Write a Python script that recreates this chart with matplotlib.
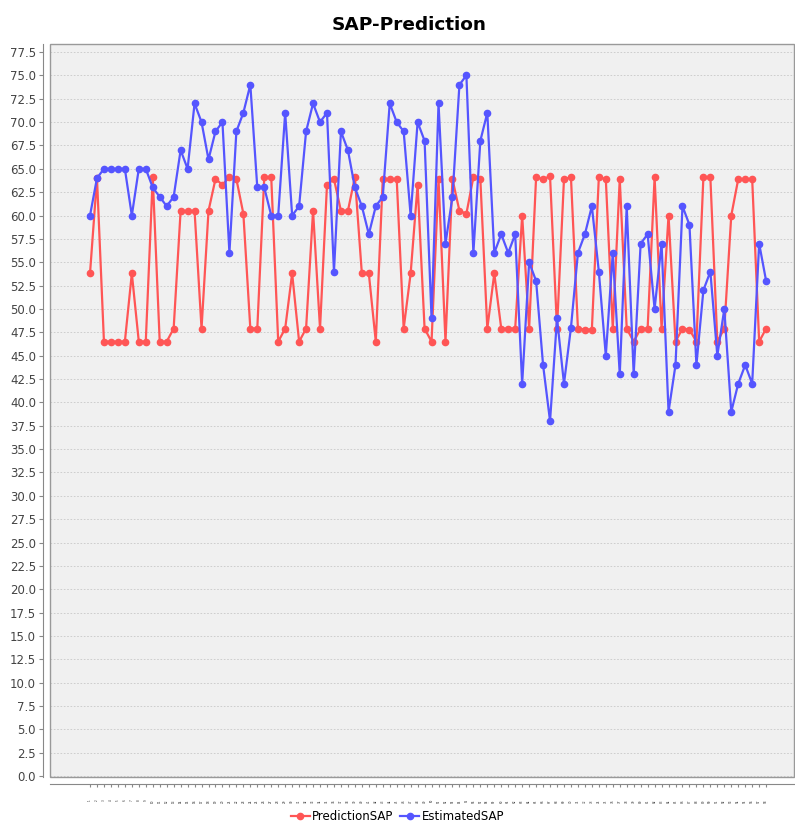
import matplotlib.pyplot as plt
from matplotlib.patches import Rectangle
import numpy as np

# values (98 categories)
categories = [str(i) for i in range(1, 99)]

prediction_sap = [
    53.8, 64.0, 46.5, 46.5, 46.5, 46.5, 53.8, 46.5, 46.5, 64.1,
    46.5, 46.5, 47.9, 60.5, 60.5, 60.5, 47.9, 60.5, 63.9, 63.3,
    64.1, 63.9, 60.2, 47.9, 47.9, 64.1, 64.1, 46.5, 47.9, 53.8,
    46.5, 47.9, 60.5, 47.9, 63.3, 63.9, 60.5, 60.5, 64.1, 53.8,
    53.8, 46.5, 63.9, 63.9, 63.9, 47.9, 53.8, 63.3, 47.9, 46.5,
    63.9, 46.5, 63.9, 60.5, 60.2, 64.1, 63.9, 47.9, 53.8, 47.9,
    47.9, 47.9, 60.0, 47.9, 64.1, 63.9, 64.2, 47.9, 63.9, 64.1,
    47.9, 47.8, 47.8, 64.1, 63.9, 47.9, 63.9, 47.9, 46.5, 47.9,
    47.9, 64.1, 47.9, 60.0, 46.5, 47.9, 47.8, 46.5, 64.1, 64.1,
    46.5, 47.9, 60.0, 63.9, 63.9, 63.9, 46.5, 47.9,
]

estimated_sap = [
    60, 64, 65, 65, 65, 65, 60, 65, 65, 63,
    62, 61, 62, 67, 65, 72, 70, 66, 69, 70,
    56, 69, 71, 74, 63, 63, 60, 60, 71, 60,
    61, 69, 72, 70, 71, 54, 69, 67, 63, 61,
    58, 61, 62, 72, 70, 69, 60, 70, 68, 49,
    72, 57, 62, 74, 75, 56, 68, 71, 56, 58,
    56, 58, 42, 55, 53, 44, 38, 49, 42, 48,
    56, 58, 61, 54, 45, 56, 43, 61, 43, 57,
    58, 50, 57, 39, 44, 61, 59, 44, 52, 54,
    45, 50, 39, 42, 44, 42, 57, 53,
]

y_ticks = np.arange(0, 77.6, 2.5)

fig = plt.figure(figsize=(7.95, 8.24), dpi=100)
ax = fig.add_axes([50 / 795, 1 - 777 / 824, 744 / 795, 733 / 824])
ax.set_facecolor("#f0f0f0")

x = np.arange(len(categories))
ax.plot(x, prediction_sap, color="#ff5555", lw=1.6, marker="o", ms=4.5,
        label="PredictionSAP", zorder=3)
ax.plot(x, estimated_sap, color="#5555ff", lw=1.6, marker="o", ms=4.5,
        label="EstimatedSAP", zorder=3)

# axis lines sit a few pixels off the plot area, like the original
# (set_position resets the ticks, so do it before styling them)
for side in ("top", "right"):
    ax.spines[side].set_visible(False)
for side in ("left", "bottom"):
    ax.spines[side].set_position(("outward", 5))
    ax.spines[side].set_color("#888888")

ax.set_xlim(-5.74, 101.0)
ax.set_ylim(-0.1, 78.36)
ax.set_yticks(y_ticks)
ax.set_yticklabels([f"{v:.1f}" for v in y_ticks])
ax.set_xticks(x)
ax.set_xticklabels(categories)
ax.tick_params(axis="y", length=3, color="#888888", pad=2,
               labelsize=8.5, labelcolor="#444444")
# category labels are practically unreadable in the original: tiny vertical text
ax.tick_params(axis="x", length=2, color="#888888", pad=9,
               labelsize=2, labelrotation=90, labelcolor="#222222")
ax.yaxis.grid(True, color="#c8c8c8", linestyle=(0, (2, 2)), lw=0.6)
ax.set_axisbelow(True)

ax.add_patch(Rectangle((0, 0), 1, 1, transform=ax.transAxes, fill=False,
                       edgecolor="#999999", lw=1.0, clip_on=False, zorder=4))

fig.suptitle("SAP-Prediction", fontsize=13.3, fontweight="bold", x=0.515, y=0.98)

fig.legend(loc="center", bbox_to_anchor=(0.5, 1 - 817 / 824), ncol=2,
           frameon=False, fontsize=8.5, handlelength=1.6, handletextpad=0.2,
           columnspacing=0.6, borderaxespad=0)

fig.savefig("out.png", dpi=100)
